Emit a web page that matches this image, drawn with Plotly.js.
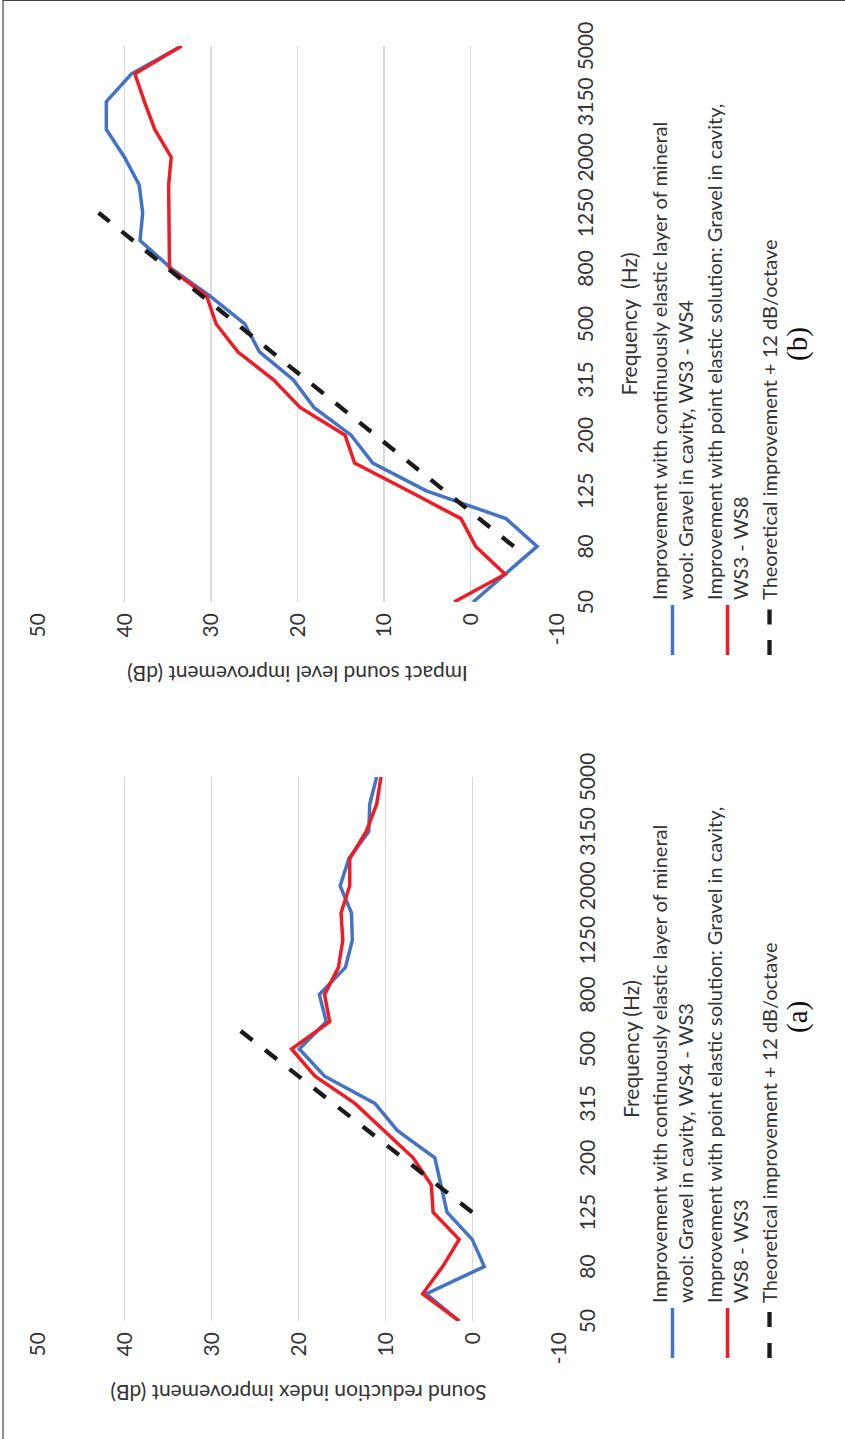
<!DOCTYPE html>
<html>
<head>
<meta charset="utf-8">
<script src="https://cdn.plot.ly/plotly-3.0.1.min.js"></script>
<style>
  html, body { margin: 0; padding: 0; background: #ffffff; overflow: hidden; }
  /* The figure is laid out landscape and turned a quarter turn to sit on the portrait page */
  #wrap {
    position: absolute; left: 0; top: 0;
    width: 1439px; height: 845px;
    transform-origin: 0 0;
    transform: translateY(1439px) rotate(-90deg);
  }
</style>
</head>
<body>
<div id="wrap"><div id="chart" style="width:1439px;height:845px;"></div></div>
<script>
// One-third-octave band centre frequencies (Hz)
const bands = ['50','63','80','100','125','160','200','250','315','400','500',
               '630','800','1000','1250','1600','2000','2500','3150','4000','5000'];
const bandLabels = ['50','80','125','200','315','500','800','1250','2000','3150','5000'];
const dbTicks = [-10, 0, 10, 20, 30, 40, 50];
const dbTickText = ['-10', '0', '10', '20', '30', '40', '50'];

// (a) Sound reduction index improvement (dB)
const airborneContinuous = [1.5, 5.3, -1.4, 0.0, 2.9, 3.6, 4.3, 8.6, 11.2, 17.0, 19.9,
                            16.8, 17.6, 14.6, 13.8, 13.9, 15.2, 14.2, 11.9, 11.8, 11.0];
const airbornePoint      = [1.5, 5.7, 3.4, 1.5, 4.5, 4.7, 6.8, 10.2, 13.5, 18.1, 20.8,
                            16.4, 17.0, 15.4, 14.9, 15.1, 14.1, 14.1, 12.2, 11.0, 10.5];
const airborneTheory     = [null, null, null, null, 0, 4, 8, 12, 16, 20, 24,
                            28, null, null, null, null, null, null, null, null, null];

// (b) Impact sound level improvement (dB)
const impactContinuous = [-0.3, -4.0, -7.7, -4.1, 5.1, 11.3, 13.8, 18.1, 20.5, 24.4, 26.1,
                          30.1, 34.6, 38.2, 37.9, 38.3, 40.0, 42.1, 42.1, 39.2, 33.4];
const impactPoint      = [1.9, -4.0, -0.6, 1.1, 7.2, 13.4, 14.5, 19.7, 22.8, 26.9, 29.4,
                          30.5, 34.8, 34.8, 34.8, 34.9, 34.6, 36.5, 37.7, 38.8, 33.4];
const impactTheory     = [null, null, -5, -1, 3, 7, 11, 15, 19, 23, 27,
                          31, 35, 39, 43, null, null, null, null, null, null];

const nameContA  = 'Improvement with continuously elastic layer of mineral<br>wool: Gravel in cavity, WS4 - WS3';
const namePointA = 'Improvement with point elastic solution: Gravel in cavity,<br>WS8 - WS3';
const nameContB  = 'Improvement with continuously elastic layer of mineral<br>wool: Gravel in cavity, WS3 - WS4';
const namePointB = 'Improvement with point elastic solution: Gravel in cavity,<br>WS3 - WS8';
const nameTheory = 'Theoretical improvement + 12 dB/octave';

const BLUE = '#4472c4', RED = '#ee1c25', BLACK = '#1a1a1a';
const TEXT = '#333333';
const FONT = 'Lato, "Open Sans", sans-serif';
const DASH_A = '15px,16px';
const DASH_B = '15px,15.5px';

function series(y, name, color, dash, width, xa, ya, legend) {
  return {
    type: 'scatter', mode: 'lines', x: bands, y: y, name: name,
    xaxis: xa, yaxis: ya, legend: legend, connectgaps: false,
    line: { color: color, width: width, dash: dash || 'solid' },
    hoverinfo: 'skip'
  };
}

const traces = [
  series(airborneContinuous, nameContA, BLUE, null, 3.5, 'x', 'y', 'legend'),
  series(airbornePoint, namePointA, RED, null, 3.5, 'x', 'y', 'legend'),
  series(airborneTheory, nameTheory, BLACK, DASH_A, 4.3, 'x', 'y', 'legend'),
  series(impactContinuous, nameContB, BLUE, null, 3.5, 'x2', 'y2', 'legend2'),
  series(impactPoint, namePointB, RED, null, 3.5, 'x2', 'y2', 'legend2'),
  series(impactTheory, nameTheory, BLACK, DASH_B, 4.3, 'x2', 'y2', 'legend2')
];

const W = 1439, H = 845;
const px = v => v / W;
const py = v => 1 - v / H;

function catAxis(domain, yref, titleText) {
  return {
    type: 'category', categoryorder: 'array', categoryarray: bands,
    domain: domain, anchor: yref,
    tickmode: 'array', tickvals: bandLabels, ticktext: bandLabels,
    showgrid: false, zeroline: false, showline: false, ticks: '',
    ticklabelstandoff: 14,
    tickfont: { family: FONT, size: 21, color: TEXT },
    title: { text: titleText, standoff: 26, font: { family: FONT, size: 21, color: TEXT } },
    automargin: false, fixedrange: true
  };
}
function dbAxis(domain, xref, titleText) {
  return {
    range: [-10, 50], tickmode: 'array', tickvals: dbTicks, ticktext: dbTickText,
    domain: domain, anchor: xref,
    showgrid: true, gridcolor: '#d9d9d9', gridwidth: 1.3,
    zeroline: false, showline: false, ticks: '',
    ticklabelstandoff: 10,
    tickfont: { family: FONT, size: 21, color: TEXT },
    title: { text: titleText, standoff: 14, font: { family: FONT, size: 21, color: TEXT } },
    automargin: false, fixedrange: true
  };
}

const legendStyle = (x) => ({
  x: x, y: py(640), xanchor: 'left', yanchor: 'top',
  bgcolor: 'rgba(0,0,0,0)', borderwidth: 0,
  font: { family: FONT, size: 20, color: TEXT },
  tracegroupgap: 0, itemwidth: 50, orientation: 'v'
});

const SERIF = '"Liberation Serif", "DejaVu Serif", serif';

const layout = {
  width: W, height: H,
  margin: { l: 0, r: 0, t: 0, b: 0 },
  paper_bgcolor: '#ffffff', plot_bgcolor: '#ffffff',
  showlegend: true,
  xaxis: catAxis([px(118), px(662)], 'y', 'Frequency (Hz)'),
  yaxis: dbAxis([py(559), py(38)], 'x', 'Sound reduction index improvement (dB)'),
  xaxis2: catAxis([px(837), px(1393)], 'y2', 'Frequency  (Hz)'),
  yaxis2: dbAxis([py(557), py(38)], 'x2', 'Impact sound level improvement (dB)'),
  legend: legendStyle(px(76)),
  legend2: legendStyle(px(779)),
  annotations: [
    { text: '(a)', xref: 'paper', yref: 'paper', x: px(404), y: py(816), showarrow: false,
      font: { family: SERIF, size: 29, color: '#111111' } },
    { text: '(b)', xref: 'paper', yref: 'paper', x: px(1114), y: py(816), showarrow: false,
      font: { family: SERIF, size: 29, color: '#111111' } }
  ],
  shapes: [
    { type: 'line', xref: 'paper', yref: 'paper', x0: 0, x1: 1, y0: py(3), y1: py(3),
      line: { color: '#444444', width: 1.2 } },
    { type: 'line', xref: 'paper', yref: 'paper', x0: px(1438.5), x1: px(1438.5), y0: 0, y1: py(3),
      line: { color: '#444444', width: 1.2 } }
  ]
};

Plotly.newPlot('chart', traces, layout, { staticPlot: true, displayModeBar: false });
</script>
</body>
</html>
